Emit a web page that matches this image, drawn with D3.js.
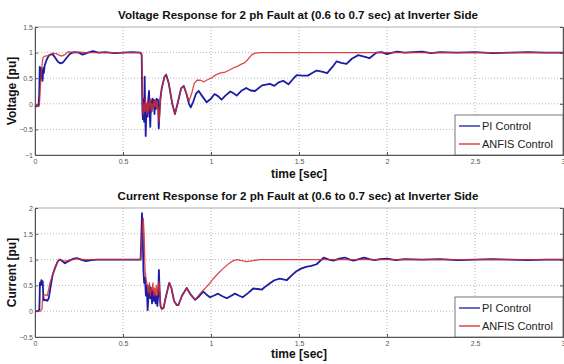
<!DOCTYPE html>
<html>
<head>
<meta charset="utf-8">
<script src="https://cdn.jsdelivr.net/npm/d3@7"></script>
<style>
  body { margin: 0; background: #fff; }
  svg { display: block; font-family: "Liberation Sans", Arial, sans-serif; }
  .tick text { fill: #555; font-size: 7px; }
  .grid line { stroke: #b8b8b8; stroke-dasharray: 1,2; }
</style>
</head>
<body>
<svg id="chart" width="564" height="364"></svg>
<script>
// time [sec], value [pu]
var voltPI = [
  [0,-0.03],[0.01,-0.05],[0.02,-0.04],[0.024,0.2],[0.027,0.72],[0.03,0.45],[0.033,0.7],[0.036,0.5],
  [0.04,0.65],[0.043,0.45],[0.047,0.7],[0.05,0.6],[0.055,0.75],[0.065,0.85],[0.08,0.95],[0.1,0.97],
  [0.115,0.9],[0.13,0.82],[0.145,0.79],[0.16,0.81],[0.18,0.9],[0.2,0.98],[0.22,1.01],[0.25,1.0],
  [0.27,0.96],[0.3,1.0],[0.33,1.03],[0.36,1.0],[0.4,1.01],[0.45,0.99],[0.5,1.0],[0.55,1.01],[0.6,1.0],
  [0.606,0.95],[0.61,-0.1],[0.613,-0.3],[0.617,0.1],[0.62,-0.35],[0.623,0.53],[0.626,-0.1],[0.629,-0.63],
  [0.632,-0.2],[0.636,0.0],[0.64,-0.25],[0.644,0.1],[0.648,0.25],[0.651,-0.1],[0.655,-0.45],[0.659,0.05],
  [0.663,-0.15],[0.667,0.1],[0.671,-0.05],[0.675,0.08],[0.679,-0.2],[0.683,0.05],[0.687,-0.1],[0.691,0.1],
  [0.695,-0.05],[0.699,0.08],[0.703,-0.48],[0.707,-0.2],[0.712,0.1],[0.72,0.3],[0.735,0.52],[0.745,0.57],
  [0.76,0.4],[0.78,0.0],[0.795,-0.2],[0.81,0.0],[0.83,0.3],[0.845,0.35],[0.86,0.2],[0.875,0.0],
  [0.885,-0.07],[0.9,0.05],[0.915,0.2],[0.93,0.25],[0.95,0.15],[0.975,0.03],[1.0,0.1],[1.02,0.19],
  [1.04,0.15],[1.06,0.08],[1.085,0.17],[1.11,0.24],[1.13,0.2],[1.146,0.16],[1.175,0.26],[1.2,0.31],
  [1.225,0.26],[1.25,0.25],[1.29,0.36],[1.335,0.39],[1.36,0.35],[1.385,0.42],[1.41,0.45],[1.44,0.38],
  [1.465,0.48],[1.487,0.56],[1.52,0.55],[1.55,0.55],[1.575,0.6],[1.6,0.65],[1.63,0.63],[1.66,0.6],
  [1.69,0.72],[1.714,0.83],[1.74,0.8],[1.77,0.78],[1.8,0.88],[1.837,0.95],[1.87,0.92],[1.9,0.89],
  [1.94,1.0],[1.97,1.01],[2.0,0.97],[2.03,1.0],[2.06,1.02],[2.1,1.0],[2.15,1.01],[2.2,1.02],[2.25,0.99],
  [2.3,1.01],[2.4,1.0],[2.5,1.01],[2.6,0.99],[2.7,1.0],[2.8,1.01],[2.9,1.0],[3.0,1.0]
];
var voltANFIS = [
  [0,-0.02],[0.015,-0.05],[0.025,-0.03],[0.03,0.3],[0.038,0.7],[0.045,0.9],[0.055,0.93],[0.08,0.94],
  [0.1,0.99],[0.12,0.98],[0.15,0.93],[0.17,0.96],[0.19,1.02],[0.22,1.0],[0.25,1.01],[0.3,1.0],[0.4,1.0],
  [0.5,1.0],[0.6,1.0],[0.606,0.98],[0.612,-0.1],[0.616,-0.2],[0.62,0.0],[0.624,-0.15],[0.628,0.1],
  [0.632,-0.1],[0.636,-0.2],[0.64,0.05],[0.645,-0.15],[0.65,0.0],[0.655,0.1],[0.66,-0.15],[0.665,0.0],
  [0.67,-0.1],[0.675,0.05],[0.68,-0.05],[0.685,0.08],[0.69,-0.1],[0.695,0.05],[0.7,-0.1],[0.705,-0.36],
  [0.71,-0.1],[0.715,0.15],[0.72,0.3],[0.735,0.52],[0.745,0.57],[0.76,0.4],[0.78,0.0],[0.795,-0.2],
  [0.81,0.0],[0.83,0.3],[0.845,0.35],[0.86,0.2],[0.875,0.05],[0.89,0.2],[0.905,0.4],[0.92,0.46],
  [0.94,0.46],[0.96,0.43],[0.98,0.47],[1.0,0.5],[1.03,0.57],[1.05,0.6],[1.08,0.62],[1.1,0.65],
  [1.127,0.7],[1.15,0.73],[1.17,0.77],[1.19,0.8],[1.21,0.87],[1.23,0.95],[1.25,0.99],[1.28,1.0],
  [1.5,1.0],[2.0,1.0],[2.5,1.0],[3.0,1.0]
];
var currPI = [
  [0,0],[0.02,0.0],[0.025,0.05],[0.028,0.55],[0.032,0.5],[0.036,0.6],[0.04,0.52],[0.044,0.58],
  [0.047,0.3],[0.05,0.21],[0.06,0.22],[0.07,0.2],[0.078,0.25],[0.09,0.5],[0.1,0.7],[0.115,0.85],
  [0.13,0.97],[0.142,1.0],[0.155,0.97],[0.17,0.93],[0.19,0.97],[0.22,1.02],[0.24,1.03],[0.26,1.0],
  [0.29,0.97],[0.32,0.99],[0.35,1.0],[0.45,1.0],[0.6,1.0],[0.603,1.3],[0.608,1.9],[0.612,1.5],
  [0.616,0.8],[0.62,0.55],[0.625,0.65],[0.63,0.3],[0.635,0.5],[0.64,0.02],[0.645,0.3],[0.65,0.5],
  [0.655,0.25],[0.66,0.45],[0.665,0.15],[0.67,0.4],[0.675,0.2],[0.68,0.35],[0.685,0.15],[0.69,0.3],
  [0.695,0.1],[0.7,0.3],[0.704,0.8],[0.708,0.4],[0.713,0.1],[0.72,0.05],[0.73,0.06],[0.745,0.3],
  [0.763,0.55],[0.775,0.45],[0.79,0.2],[0.805,0.12],[0.815,0.12],[0.835,0.3],[0.862,0.45],[0.885,0.32],
  [0.91,0.22],[0.93,0.28],[0.956,0.38],[0.975,0.32],[0.994,0.27],[1.015,0.3],[1.04,0.34],[1.065,0.29],
  [1.09,0.25],[1.115,0.3],[1.136,0.34],[1.16,0.3],[1.18,0.27],[1.21,0.35],[1.24,0.44],[1.265,0.43],
  [1.29,0.42],[1.31,0.48],[1.335,0.54],[1.36,0.6],[1.39,0.63],[1.43,0.6],[1.46,0.7],[1.487,0.78],
  [1.515,0.83],[1.54,0.86],[1.57,0.88],[1.6,0.91],[1.64,1.04],[1.67,1.0],[1.695,0.98],[1.73,1.02],
  [1.76,1.04],[1.79,1.0],[1.81,0.98],[1.84,1.01],[1.87,1.04],[1.9,1.01],[1.93,0.99],[1.96,1.01],
  [2.0,1.02],[2.05,0.99],[2.1,1.01],[2.2,1.0],[2.3,1.01],[2.4,0.99],[2.5,1.0],[2.6,1.01],[2.7,1.0],
  [2.8,0.99],[2.9,1.0],[3.0,1.0]
];
var currANFIS = [
  [0,0],[0.03,0.0],[0.04,0.05],[0.044,0.3],[0.055,0.32],[0.07,0.3],[0.085,0.55],[0.104,0.74],
  [0.12,0.9],[0.135,1.0],[0.15,0.99],[0.17,0.97],[0.2,0.99],[0.24,1.02],[0.28,1.0],[0.4,1.0],[0.6,1.0],
  [0.604,1.2],[0.61,1.6],[0.615,1.8],[0.62,1.5],[0.625,0.8],[0.632,0.6],[0.638,0.5],[0.645,0.35],
  [0.65,0.55],[0.655,0.3],[0.66,0.45],[0.665,0.4],[0.67,0.55],[0.675,0.3],[0.68,0.45],[0.685,0.3],
  [0.69,0.5],[0.695,0.3],[0.7,0.45],[0.705,0.58],[0.71,0.3],[0.715,0.08],[0.72,0.03],[0.73,0.06],
  [0.745,0.3],[0.763,0.55],[0.775,0.45],[0.79,0.2],[0.805,0.12],[0.815,0.12],[0.835,0.3],[0.862,0.45],
  [0.885,0.32],[0.91,0.22],[0.9375,0.34],[0.96,0.42],[0.99,0.53],[1.013,0.63],[1.04,0.73],[1.07,0.83],
  [1.1,0.92],[1.127,0.98],[1.15,1.0],[1.2,0.96],[1.24,0.98],[1.28,1.0],[1.5,1.0],[2.0,1.0],[2.5,1.0],[3.0,1.0]
];
var xTicks = [0, 0.5, 1, 1.5, 2, 2.5, 3];
var voltTicks = [-1, -0.5, 0, 0.5, 1, 1.5];
var currTicks = [-0.5, 0, 0.5, 1, 1.5, 2];
var seriesNames = ["PI Control", "ANFIS Control"];
var seriesColors = ["#1c1ca6", "#d22b2b"];

var svg = d3.select("svg#chart");

function panel(top, bottom, yDomain, yTicks, title, ylabel, pi, anfis, labelY) {
  var left = 35, right = 563;
  var x = d3.scaleLinear().domain([0, 3]).range([left, right]);
  var y = d3.scaleLinear().domain(yDomain).range([bottom, top]);
  var g = svg.append("g");

  g.append("g").attr("class", "grid")
    .selectAll("line.v").data(xTicks.slice(1, -1)).enter().append("line")
    .attr("x1", d => x(d)).attr("x2", d => x(d)).attr("y1", top).attr("y2", bottom);
  g.append("g").attr("class", "grid")
    .selectAll("line.h").data(yTicks.slice(1, -1)).enter().append("line")
    .attr("y1", d => y(d)).attr("y2", d => y(d)).attr("x1", left).attr("x2", right);

  g.append("rect").attr("x", left).attr("y", top)
    .attr("width", right - left).attr("height", bottom - top)
    .attr("fill", "none").attr("stroke", "#9a9a9a").attr("stroke-width", 0.8);

  g.append("g").attr("transform", "translate(0," + bottom + ")")
    .call(d3.axisBottom(x).tickValues(xTicks).tickFormat(d3.format("")).tickSize(-3).tickPadding(4));
  g.append("g").attr("transform", "translate(" + left + ",0)")
    .call(d3.axisLeft(y).tickValues(yTicks).tickFormat(d3.format("")).tickSize(-3).tickPadding(2));
  g.append("g").attr("transform", "translate(" + right + ",0)")
    .call(d3.axisRight(y).tickValues(yTicks).tickFormat("").tickSize(-3));
  g.selectAll(".domain").attr("stroke", "#555");
  g.selectAll(".tick line").attr("stroke", "#555");

  var line = d3.line().x(d => x(d[0])).y(d => y(d[1]));
  g.append("path").datum(pi).attr("d", line).attr("fill", "none")
    .attr("stroke", seriesColors[0]).attr("stroke-width", 1.8).attr("stroke-linejoin", "round");
  g.append("path").datum(anfis).attr("d", line).attr("fill", "none")
    .attr("stroke", seriesColors[1]).attr("stroke-width", 1.3).attr("stroke-opacity", 0.85)
    .attr("stroke-linejoin", "round");

  g.append("text").attr("x", 298).attr("y", top - 8).attr("text-anchor", "middle")
    .style("font-size", "11.6px").style("font-weight", "bold").attr("fill", "#111").text(title);
  g.append("text").attr("transform", "translate(16," + ((top + bottom) / 2) + ") rotate(-90)")
    .attr("text-anchor", "middle").style("font-size", "12px").style("font-weight", "bold")
    .attr("fill", "#111").text(ylabel);
  g.append("text").attr("x", 299).attr("y", labelY).attr("text-anchor", "middle")
    .style("font-size", "12px").style("font-weight", "bold").attr("fill", "#111").text("time [sec]");

  var lg = g.append("g");
  lg.append("rect").attr("x", 455).attr("y", bottom - 40).attr("width", right - 455).attr("height", 40)
    .attr("fill", "#fff").attr("stroke", "#555").attr("stroke-width", 0.8);
  seriesNames.forEach(function (n, i) {
    var ly = bottom - 29 + i * 18;
    lg.append("line").attr("x1", 459).attr("x2", 480).attr("y1", ly).attr("y2", ly)
      .attr("stroke", seriesColors[i]).attr("stroke-width", 1.3);
    lg.append("text").attr("x", 482).attr("y", ly + 4).style("font-size", "11px")
      .attr("fill", "#222").text(n);
  });
}

panel(27, 155, [-1, 1.5], voltTicks,
  "Voltage Response for 2 ph Fault at (0.6 to 0.7 sec) at Inverter Side",
  "Voltage [pu]", voltPI, voltANFIS, 178);
panel(208, 337, [-0.5, 2], currTicks,
  "Current Response for 2 ph Fault at (0.6 to 0.7 sec) at Inverter Side",
  "Current [pu]", currPI, currANFIS, 358);
</script>
</body>
</html>
